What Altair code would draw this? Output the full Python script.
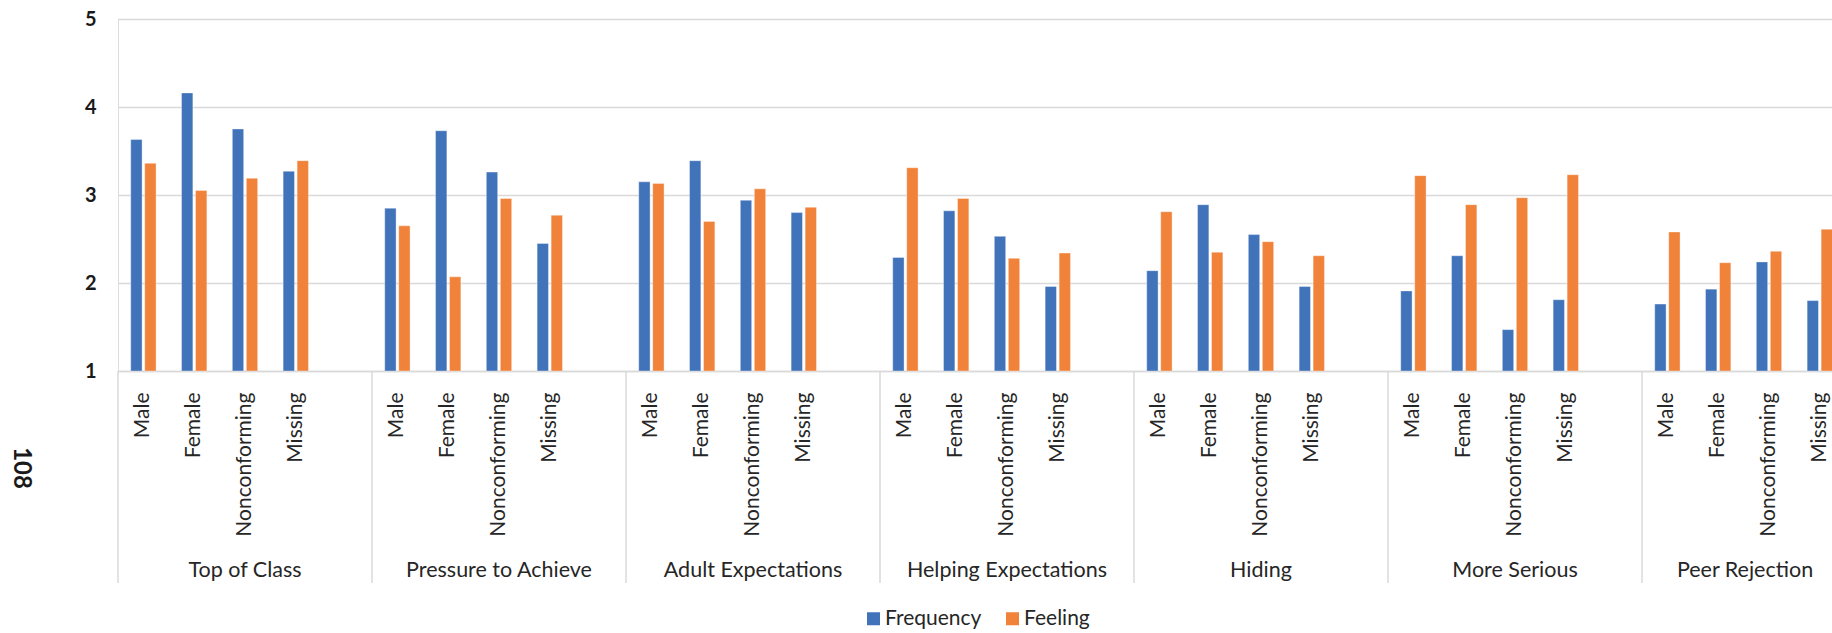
import altair as alt
import pandas as pd

groups = ["Top of Class", "Pressure to Achieve", "Adult Expectations",
          "Helping Expectations", "Hiding", "More Serious", "Peer Rejection"]
genders = ["Male", "Female", "Nonconforming", "Missing"]
series = ["Frequency", "Feeling"]
colors = ["#4173BA", "#F0823A"]

frequency = [
    [3.63, 4.16, 3.75, 3.27],
    [2.85, 3.73, 3.26, 2.45],
    [3.15, 3.39, 2.94, 2.80],
    [2.29, 2.82, 2.53, 1.96],
    [2.14, 2.89, 2.55, 1.96],
    [1.91, 2.31, 1.47, 1.81],
    [1.76, 1.93, 2.24, 1.80],
]
feeling = [
    [3.36, 3.05, 3.19, 3.39],
    [2.65, 2.07, 2.96, 2.77],
    [3.13, 2.70, 3.07, 2.86],
    [3.31, 2.96, 2.28, 2.34],
    [2.81, 2.35, 2.47, 2.31],
    [3.22, 2.89, 2.97, 3.23],
    [2.58, 2.23, 2.36, 2.61],
]
y_ticks = [1, 2, 3, 4, 5]
page_number = "108"

# slots: 4 genders + 1 empty slot per group
slots = []
for g in groups:
    for s in genders + [""]:
        slots.append(f"{g}|{s}")

rows = []
for gi, g in enumerate(groups):
    for si, s in enumerate(genders):
        rows.append({"slot": f"{g}|{s}", "series": "Frequency", "value": frequency[gi][si]})
        rows.append({"slot": f"{g}|{s}", "series": "Feeling", "value": feeling[gi][si]})
df = pd.DataFrame(rows)

grp_df = pd.DataFrame({
    "group": groups,
    "first": [f"{g}|{genders[0]}" for g in groups],
    "mid": [f"{g}|{genders[2]}" for g in groups],
})
full_groups = grp_df.iloc[:-1]
last_group = grp_df.iloc[-1:]

FONT = "Lato"
SLOT_W = 50.8
PLOT_W_FULL = SLOT_W * len(slots)
H = 352
W = 1714

xscale = alt.Scale(domain=slots, range=[0, PLOT_W_FULL], paddingInner=0, paddingOuter=0)

bars = alt.Chart(df).mark_bar(stroke="white", strokeWidth=0.6, strokeOpacity=0.6).encode(
    x=alt.X("slot:N", scale=xscale, sort=slots,
            axis=alt.Axis(title=None, labelAngle=270, labelExpr="split(datum.label, '|')[1]",
                          labelFont=FONT, labelFontSize=21, labelColor="#262626",
                          labelPadding=21, ticks=False, tickSize=0,
                          domainColor="#d9d9d9", domainWidth=1.5, grid=False,
                          labelOverlap=False, labelBound=False)),
    xOffset=alt.XOffset("series:N", sort=series,
                        scale=alt.Scale(domain=series, paddingInner=0.19, paddingOuter=0.91)),
    y=alt.Y("value:Q", scale=alt.Scale(domain=[1, 5], zero=False, nice=False),
            axis=alt.Axis(title=None, values=y_ticks, format="d", labelFont=FONT,
                          labelFontSize=20, labelFontWeight="bold", labelColor="#1a1a1a",
                          labelPadding=22, ticks=False, domain=False,
                          gridColor="#d9d9d9", gridWidth=1.5)),
    y2=alt.datum(1),
    color=alt.Color("series:N", sort=series,
                    scale=alt.Scale(domain=series, range=colors),
                    legend=alt.Legend(title=None, orient="none", direction="horizontal",
                                      legendX=745, legendY=589, symbolType="square",
                                      symbolSize=169, symbolStrokeWidth=0,
                                      labelFont=FONT, labelFontSize=21, labelColor="#262626",
                                      columnPadding=20, labelOffset=1, padding=0)),
)

seps = alt.Chart(grp_df).mark_rule(color="#d9d9d9", strokeWidth=1.5).encode(
    x=alt.X("first:N", scale=xscale, bandPosition=0),
    y=alt.value(H),
    y2=alt.value(564),
)

glabels = alt.Chart(full_groups).mark_text(font=FONT, fontSize=21.5, color="#262626",
                                           baseline="alphabetic", align="center").encode(
    x=alt.X("mid:N", scale=xscale, bandPosition=0.5),
    y=alt.value(558),
    text="group:N",
)

# the last, partly hidden group has its label centred on its visible part
glabel_last = alt.Chart(last_group).mark_text(font=FONT, fontSize=21.5, color="#262626",
                                              baseline="alphabetic", align="center",
                                              dx=-24).encode(
    x=alt.X("mid:N", scale=xscale, bandPosition=0.5),
    y=alt.value(558),
    text="group:N",
)

pnum = alt.Chart(pd.DataFrame({"t": [page_number]})).mark_text(
    font=FONT, fontSize=24, fontWeight="bold", color="#1a1a1a", angle=90,
    align="center", baseline="middle").encode(
    x=alt.value(-97), y=alt.value(449), text="t:N")

chart = alt.layer(bars, seps, glabels, glabel_last, pnum).properties(
    width=W, height=H,
    autosize=alt.AutoSizeParams(type="none"),
    padding={"left": 118, "top": 19, "right": 0, "bottom": 262},
).configure_view(stroke=None).configure(background="white")

chart.save("out.html", embed_options={"renderer": "svg", "actions": False})
